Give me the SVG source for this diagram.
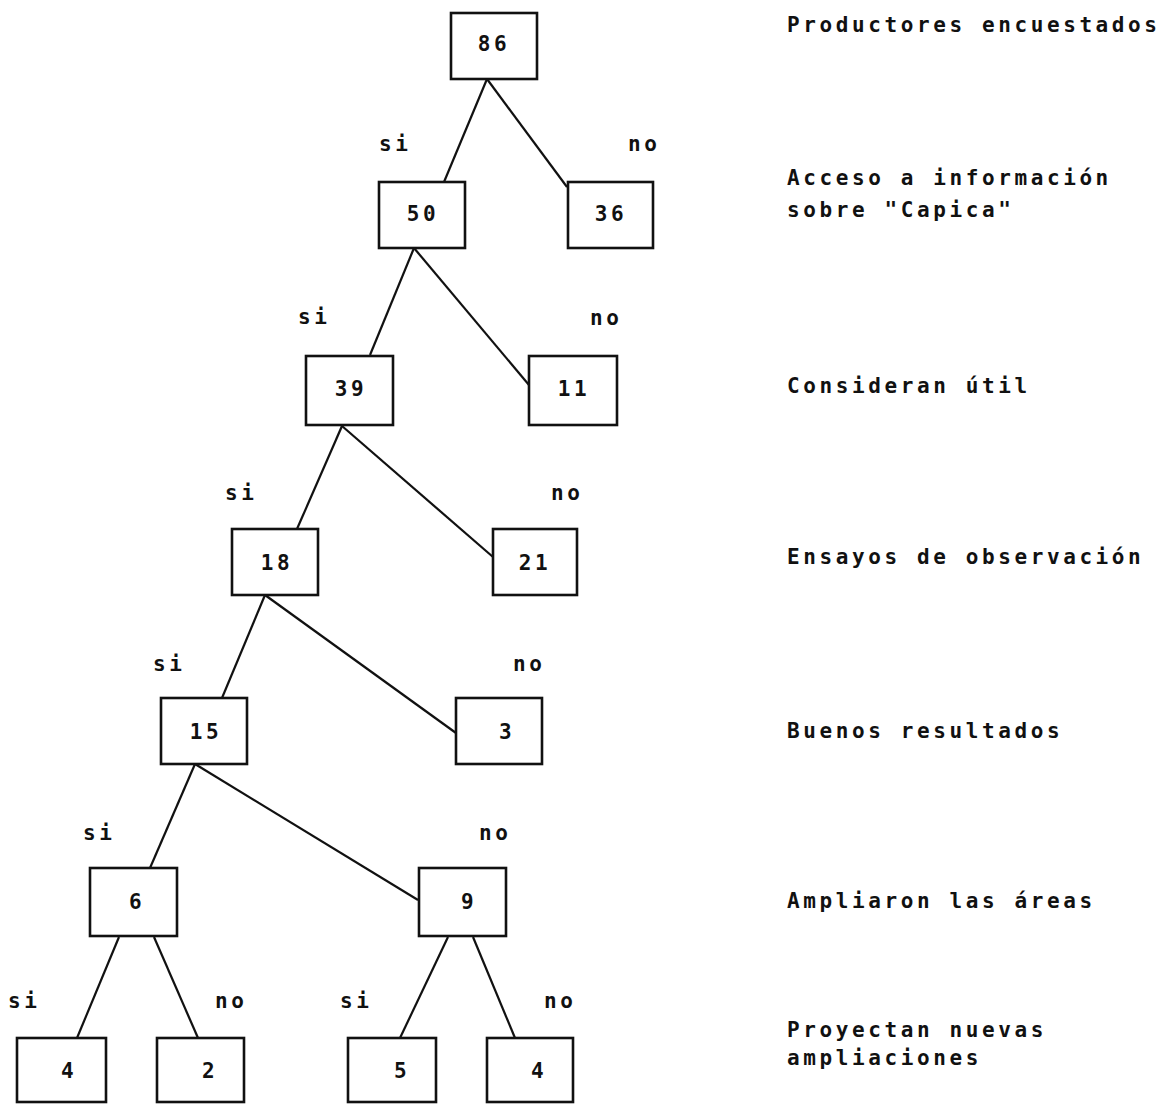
<svg xmlns="http://www.w3.org/2000/svg" width="1166" height="1104" viewBox="0 0 1166 1104">
<style>
text{font-family:"DejaVu Sans Mono","Liberation Mono",monospace;font-weight:bold;font-size:21px;letter-spacing:3.6px;fill:#111}
.n{text-anchor:middle}
rect{fill:#fff;stroke:#111;stroke-width:2.6}
#connectors line{stroke:#111;stroke-width:2.2}
</style>
<rect x="0" y="0" width="1166" height="1104" style="fill:#fff;stroke:none"/>
<g id="connectors">
<line x1="487" y1="79" x2="444" y2="182"/>
<line x1="487" y1="79" x2="567" y2="187"/>
<line x1="414" y1="248" x2="370" y2="355"/>
<line x1="414" y1="248" x2="529" y2="385"/>
<line x1="342" y1="426" x2="297" y2="529"/>
<line x1="342" y1="426" x2="493" y2="557"/>
<line x1="265" y1="595" x2="222" y2="698"/>
<line x1="265" y1="595" x2="456" y2="733"/>
<line x1="195" y1="764" x2="150" y2="868"/>
<line x1="195" y1="764" x2="418" y2="900"/>
<line x1="119" y1="937" x2="77" y2="1038"/>
<line x1="154" y1="937" x2="198" y2="1038"/>
<line x1="448" y1="937" x2="400" y2="1038"/>
<line x1="473" y1="937" x2="515" y2="1038"/>
</g>
<g id="n86"><rect x="451" y="13" width="86" height="66"/><text class="n" x="494" y="51">86</text></g>
<g id="n50"><rect x="379" y="182" width="86" height="66"/><text class="n" x="423" y="221">50</text></g>
<g id="n36"><rect x="568" y="182" width="85" height="66"/><text class="n" x="611" y="221">36</text></g>
<g id="n39"><rect x="306" y="356" width="87" height="69"/><text class="n" x="351" y="396">39</text></g>
<g id="n11"><rect x="529" y="356" width="88" height="69"/><text class="n" x="574" y="396">11</text></g>
<g id="n18"><rect x="232" y="529" width="86" height="66"/><text class="n" x="277" y="570">18</text></g>
<g id="n21"><rect x="493" y="529" width="84" height="66"/><text class="n" x="535" y="570">21</text></g>
<g id="n15"><rect x="161" y="698" width="86" height="66"/><text class="n" x="206" y="739">15</text></g>
<g id="n3"><rect x="456" y="698" width="86" height="66"/><text class="n" x="507" y="739">3</text></g>
<g id="n6"><rect x="90" y="868" width="87" height="68"/><text class="n" x="137" y="909">6</text></g>
<g id="n9"><rect x="419" y="868" width="87" height="68"/><text class="n" x="469" y="909">9</text></g>
<g id="n4a"><rect x="17" y="1038" width="89" height="64"/><text class="n" x="69" y="1078">4</text></g>
<g id="n2"><rect x="157" y="1038" width="87" height="64"/><text class="n" x="210" y="1078">2</text></g>
<g id="n5"><rect x="348" y="1038" width="88" height="64"/><text class="n" x="402" y="1078">5</text></g>
<g id="n4b"><rect x="487" y="1038" width="86" height="64"/><text class="n" x="539" y="1078">4</text></g>
<g id="branch-labels">
<text x="379" y="151">si</text>
<text x="628" y="151">no</text>
<text x="298" y="324">si</text>
<text x="590" y="325">no</text>
<text x="225" y="500">si</text>
<text x="551" y="500">no</text>
<text x="153" y="671">si</text>
<text x="513" y="671">no</text>
<text x="83" y="840">si</text>
<text x="479" y="840">no</text>
<text x="8" y="1008">si</text>
<text x="215" y="1008">no</text>
<text x="340" y="1008">si</text>
<text x="544" y="1008">no</text>
</g>
<g id="level-labels">
<text x="787" y="32">Productores encuestados</text>
<text x="787" y="185">Acceso a información</text>
<text x="787" y="217">sobre "Capica"</text>
<text x="787" y="393">Consideran útil</text>
<text x="787" y="564">Ensayos de observación</text>
<text x="787" y="738">Buenos resultados</text>
<text x="787" y="908">Ampliaron las áreas</text>
<text x="787" y="1037">Proyectan nuevas</text>
<text x="787" y="1065">ampliaciones</text>
</g>
</svg>
